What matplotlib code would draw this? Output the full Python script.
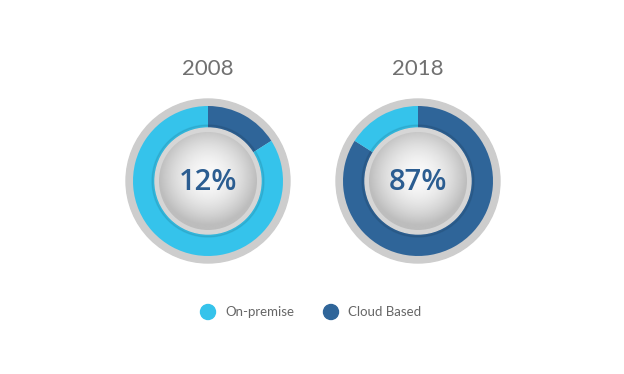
import matplotlib.pyplot as plt
import numpy as np
from matplotlib.patches import Circle

years = ["2008", "2018"]
cloud_labels = [12, 87]          # percentages printed in the centre
cloud_drawn = [16, 84]           # share of the ring drawn dark (as in the picture)
series = ["On-premise", "Cloud Based"]
colors = {"On-premise": "#35c3eb", "Cloud Based": "#2f6599"}

W, H = 624, 374
fig = plt.figure(figsize=(W / 100, H / 100), dpi=100)
ax = fig.add_axes([0, 0, 1, 1])

centers = [(208, H - 181), (418, H - 181)]

# radial gradient for the inner "button"
n = 200
gx, gy = np.meshgrid(np.linspace(-1, 1, n), np.linspace(-1, 1, n))
rr = np.clip(np.hypot(gx, gy + 0.1), 0, 1)
grad = 0.98 - 0.24 * rr ** 1.8

for (cx, cy), year, lab, drawn in zip(centers, years, cloud_labels, cloud_drawn):
    ax.add_patch(Circle((cx, cy), 82, color="#cdcdcd", zorder=1))
    ax.pie([drawn, 100 - drawn], colors=[colors["Cloud Based"], colors["On-premise"]],
           startangle=90, counterclock=False, center=(cx, cy), radius=75,
           wedgeprops=dict(width=22, linewidth=0), frame=True)
    # soft shadow on inner edge of the ring
    ax.add_patch(Circle((cx, cy), 56, color="black", alpha=0.07, zorder=3))
    ax.add_patch(Circle((cx, cy), 53, color="#d6d6d6", zorder=4))
    clip = Circle((cx, cy), 49, transform=ax.transData)
    im = ax.imshow(grad, cmap="gray", vmin=0, vmax=1, extent=[cx - 49, cx + 49, cy - 49, cy + 49],
                   zorder=5, interpolation="bilinear")
    im.set_clip_path(clip)
    ax.text(cx, H - 69, year, ha="center", va="center", fontsize=16, color="#707070",
            family="Lato", zorder=6)
    ax.text(cx, cy - 1, f"{lab}%", ha="center", va="center", fontsize=21, color="#2b5d91",
            family="Open Sans", weight=600, zorder=6)

# legend
leg_x = [208, 331]
for x, name in zip(leg_x, series):
    ax.add_patch(Circle((x, H - 312), 7.5, color=colors[name], zorder=6))
    ax.text(x + 17, H - 312, name, ha="left", va="center", fontsize=9.5, color="#666666",
            family="Lato", zorder=6)

ax.set_xlim(0, W)
ax.set_ylim(0, H)
ax.set_aspect("equal")
ax.axis("off")
fig.savefig("out.png", dpi=100, facecolor="white")
